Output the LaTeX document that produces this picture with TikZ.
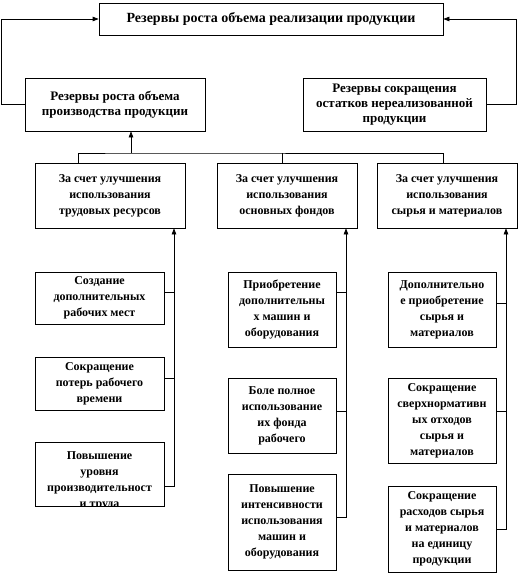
\documentclass[tikz,border=0pt]{standalone}
\usepackage{fontspec}
\setmainfont{Liberation Serif}
\usetikzlibrary{arrows.meta,positioning}

\begin{document}
\begin{tikzpicture}[
  x=1pt, y=1pt, line width=0.7pt,
  box/.style={draw, align=center, inner sep=1pt, font=\bfseries\fontsize{12}{16}\selectfont},
  title/.style={box, minimum width=344pt, minimum height=32pt, font=\bfseries\fontsize{14}{16}\selectfont},
  mid/.style={box, minimum height=53pt, font=\bfseries\fontsize{13}{15}\selectfont},
  cat/.style={box, minimum width=140pt, minimum height=65pt},
  sub/.style={box, minimum width=108pt},
  subtext/.style={align=center, inner sep=0pt, font=\bfseries\fontsize{12}{16}\selectfont},
  arr/.style={-{Triangle[length=6pt,width=4.5pt]}}
]
\useasboundingbox (0,0) rectangle (520,-574);

\node[title] (total) at (271,-19) {Резервы роста объема реализации продукции};
\node[mid, minimum width=180pt] (prod) at (115,-104.5) {Резервы роста объема\\производства продукции};
\node[mid, minimum width=183pt] (stock) at (394.5,-104.5) {Резервы сокращения\\остатков нереализованной\\продукции};

\node[cat, minimum width=150pt] (labour) at (110,-195.5) {За счет улучшения\\использования\\трудовых ресурсов};
\node[cat] (assets) at (287,-195.5) {За счет улучшения\\использования\\основных фондов};
\node[cat] (mater) at (447,-195.5) {За счет улучшения\\использования\\сырья и материалов};

% labour column
\node[sub, minimum width=129pt, minimum height=52pt] (jobs) at (99.5,-298) {Создание\\дополнительных\\рабочих мест};
\node[sub, minimum width=129pt, minimum height=53pt] (losses) at (99.5,-383.5) {Сокращение\\потерь рабочего\\времени};
\node[sub, minimum width=129pt, minimum height=64pt] (prodty) at (99.5,-474) {};
\begin{scope}
  \clip (prodty.north west) rectangle (prodty.south east);
  \node[subtext, anchor=north] (prodtytext) at ([yshift=-10pt]prodty.north) {Повышение\\уровня\\производительност\\и труда};
\end{scope}

% assets column
\node[sub, minimum height=75pt] (machines) at (282,-309.5) {Приобретение\\дополнительны\\х машин и\\оборудования};
\node[sub, minimum height=75pt] (fund) at (282,-415.5) {Боле полное\\использование\\их фонда\\рабочего};
\node[sub, minimum height=96pt] (intens) at (282,-522) {Повышение\\интенсивности\\использования\\машин и\\оборудования};

% materials column
\node[sub, minimum height=75pt] (extra) at (442,-309.5) {Дополнительно\\е приобретение\\сырья и\\материалов};
\node[sub, minimum height=85pt] (waste) at (442,-420.5) {Сокращение\\сверхнормативн\\ых отходов\\сырья и\\материалов};
\node[sub, minimum height=86pt] (usage) at (442,-529) {Сокращение\\расходов сырья\\и материалов\\на единицу\\продукции};

% up to the top box
\draw[arr] (prod.west) -- ++(-23,0) |- (total.west);
\draw[arr] (stock.east) -- ++(30,0) |- (total.east);

% bar over the three groups
\coordinate (bar) at (131,-153);
\draw ([xshift=-32pt]labour.north) |- (bar) -| ([xshift=-4pt]mater.north);
\draw ([xshift=-5pt]assets.north) -- ++(0,10);
\draw[arr] (bar) -- (bar |- prod.south);

% columns into the groups
\draw[arr] ([yshift=-12pt]prodty.east) -| ([xshift=64pt]labour.south);
\draw ([yshift=6pt]jobs.east) -- ++(10,0);
\draw ([yshift=5pt]losses.east) -- ++(10,0);

\draw[arr] ([yshift=5pt]intens.east) -| ([xshift=59pt]assets.south);
\draw ([yshift=17pt]machines.east) -- ++(10,0);
\draw ([yshift=4pt]fund.east) -- ++(10,0);

\draw[arr] (usage.east) -| ([xshift=59pt]mater.south);
\draw ([yshift=6pt]extra.east) -- ++(10,0);
\draw ([yshift=9pt]waste.east) -- ++(10,0);
\end{tikzpicture}
\end{document}
